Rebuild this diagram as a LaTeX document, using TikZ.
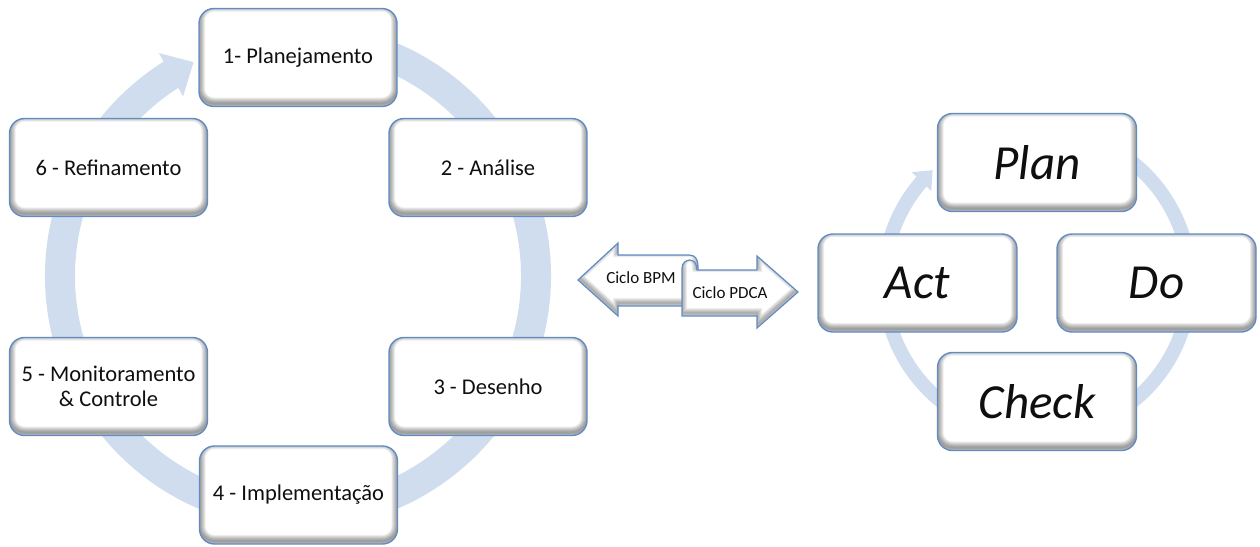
\documentclass[tikz,border=0pt]{standalone}
\usepackage{fontspec}
\setmainfont{Carlito}
\usetikzlibrary{arrows.meta,bending,calc}
\definecolor{ringblue}{RGB}{208,221,239}
\definecolor{boxblue}{RGB}{96,140,196}
\definecolor{inkblack}{RGB}{15,15,15}

% soft inner shadow along the edges of a rounded box
\newcommand\boxshade{%
  \foreach \w in {2,4,...,12}{%
    \draw[black, opacity=0.075, line width=\w*1pt, rounded corners=15pt]
      ([yshift=3pt]path picture bounding box.south west) rectangle
      ([yshift=3pt]path picture bounding box.north east);}}

% outlines of the two opposing arrows
\newcommand\bpmpath{(578,280) -- (618,243) -- (618,255) -- (689,255)
  .. controls (695,255) and (698,259) .. (698,266) -- (698,306)
  -- (618,306) -- (618,316) -- cycle}
\newcommand\pdcapath{(682,268) .. controls (682,263) and (686,260) .. (690,260)
  .. controls (694,260) and (697,264) .. (697,270) -- (757,270) -- (757,256)
  -- (798,292) -- (757,328) -- (757,316) -- (682,316) -- cycle}

\tikzset{
  cyclebox/.style={draw=boxblue, line width=1.4pt, fill=white,
    rounded corners=15pt, minimum width=198pt, minimum height=98pt,
    inner sep=0pt, align=center, text=inkblack, path picture={\boxshade}},
  bpmlabel/.style={cyclebox, font=\fontsize{22.5}{25}\selectfont},
  pdcalabel/.style={cyclebox, minimum width=199pt,
    font=\fontsize{49}{55}\selectfont\itshape},
  bigring/.style={draw=ringblue, line width=30pt,
    -{Triangle[width=48pt,length=26pt,flex]}},
  smallring/.style={draw=ringblue, line width=14pt,
    -{Triangle[width=26pt,length=16pt,flex]}},
  arrowshape/.style={draw=boxblue, line width=1.2pt, fill=white},
  arrowtext/.style={inner sep=0pt, text=inkblack, font=\fontsize{17}{20}\selectfont},
}

\begin{document}
\begin{tikzpicture}[x=1pt,y=-1pt]
\useasboundingbox (0,0) rectangle (1260,546);
\fill[white] (0,0) rectangle (1260,546);

% centres of the two cycles
\coordinate (bpmc) at (298,276);
\coordinate (pdcac) at (1037,282);

% circular flow behind the boxes
\draw[bigring] ($(bpmc)+(85:238pt)$) arc[start angle=85, end angle=-244, radius=238pt];
\draw[smallring] ($(pdcac)+(80:153pt)$) arc[start angle=80, end angle=-227, radius=153pt];

% BPM cycle
\node[bpmlabel] (p1) at (298,57.5) {1- Planejamento};
\node[bpmlabel] (p2) at (488,167.5) {2 - Análise};
\node[bpmlabel] (p3) at (488,386.5) {3 - Desenho};
\node[bpmlabel] (p4) at (298.5,495) {4 - Implementação};
\node[bpmlabel] (p5) at (108.5,386.5) {5 - Monitoramento\\\& Controle};
\node[bpmlabel] (p6) at (108.5,167.5) {6 - Refinamento};

% PDCA cycle
\node[pdcalabel] (plan) at (1037,162.5) {Plan};
\node[pdcalabel] (do) at (1156.5,283) {Do};
\node[pdcalabel] (check) at (1037,401.5) {Check};
\node[pdcalabel] (act) at (917.5,283) {Act};

% opposing arrows between the cycles
\path[arrowshape, path picture={\foreach \w in {2,4,...,10}{%
    \draw[black, opacity=0.07, line width=\w*1pt, yshift=3pt] \bpmpath;}}] \bpmpath;
\path[arrowshape, path picture={\foreach \w in {2,4,...,10}{%
    \draw[black, opacity=0.07, line width=\w*1pt, yshift=3pt] \pdcapath;}}] \pdcapath;
\node[arrowtext] (bpm) at (641,278) {Ciclo BPM};
\node[arrowtext] (pdca) at (730,293) {Ciclo PDCA};
\end{tikzpicture}
\end{document}
